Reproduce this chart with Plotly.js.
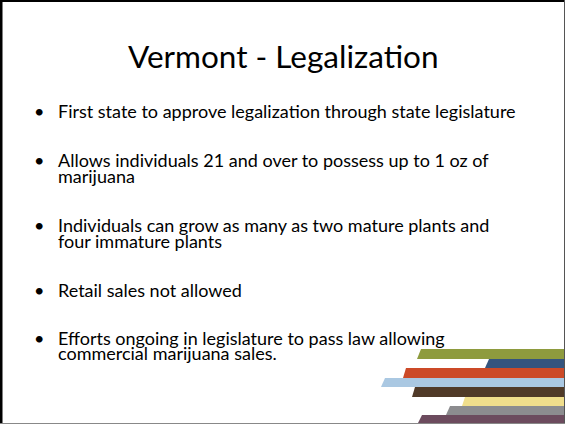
<!DOCTYPE html>
<html>
<head>
<meta charset="utf-8">
<script src="https://cdn.plot.ly/plotly-3.0.1.min.js"></script>
<style>html,body{margin:0;padding:0;background:#fff;}#chart{width:565px;height:424px;}</style>
</head>
<body>
<div id="chart"></div>
<script>
// ---- slide content ----
const slideTitle = "Vermont - Legalization";
const bulletLines = [
  ["First state to approve legalization through state legislature"],
  ["Allows individuals 21 and over to possess up to 1 oz of", "marijuana"],
  ["Individuals can grow as many as two mature plants and", "four immature plants"],
  ["Retail sales not allowed"],
  ["Efforts ongoing in legislature to pass law allowing", "commercial marijuana sales."]
];
const bulletY = [111, 160, 225, 289.5, 337.5];

// ---- decorative stripes (slide px units) ----
const stripeTop      = [349, 359, 368, 378, 387, 397, 406, 415];
const stripeBottom   = [359, 368, 378, 387, 397, 406, 415, 423];
const stripeLeftTop  = [421, 489, 406, 385, 415, 465, 450, 422];
const stripeLeftBot  = [417, 485, 403, 381, 412, 462, 446, 418];
const stripeRight = 564;
const stripeColors = ["#8e9b3e", "#34547e", "#cc4a28", "#aac8e2", "#503a28", "#f0de8c", "#8c8c8f", "#6c4b5e"];

const FONT = "Lato, 'Open Sans', sans-serif";
const LINE_GAP = 15.5;

const traces = stripeTop.map((t, i) => ({
  type: "scatter", mode: "lines", fill: "toself",
  x: [stripeLeftTop[i], stripeRight, stripeRight, stripeLeftBot[i], stripeLeftTop[i]],
  y: [t, t, stripeBottom[i], stripeBottom[i], t],
  line: {width: 0, color: stripeColors[i]},
  fillcolor: stripeColors[i],
  hoverinfo: "skip", showlegend: false
}));

const annotations = [{
  x: 283, y: 56, xref: "x", yref: "y", text: slideTitle, showarrow: false,
  xanchor: "center", yanchor: "middle",
  font: {family: FONT, size: 31.5, color: "#000"}
}];
bulletLines.forEach((lines, i) => {
  annotations.push({
    x: 39, y: bulletY[i], xref: "x", yref: "y", text: "•", showarrow: false,
    xanchor: "center", yanchor: "middle", font: {family: FONT, size: 18, color: "#000"}
  });
  lines.forEach((ln, j) => {
    annotations.push({
      x: 56, y: bulletY[i] + j * LINE_GAP, xref: "x", yref: "y", text: ln, showarrow: false,
      xanchor: "left", yanchor: "middle", font: {family: FONT, size: 18, color: "#000"}
    });
  });
});

const shapes = [
  {type: "line", xref: "x", yref: "y", x0: 1, x1: 1, y0: 0, y1: 424, line: {color: "#000", width: 3}},
  {type: "line", xref: "x", yref: "y", x0: 0, x1: 565, y0: 1, y1: 1, line: {color: "#000", width: 2}},
  {type: "line", xref: "x", yref: "y", x0: 564.5, x1: 564.5, y0: 0, y1: 424, line: {color: "#555", width: 1}},
  {type: "line", xref: "x", yref: "y", x0: 0, x1: 565, y0: 423.5, y1: 423.5, line: {color: "#888", width: 1}}
];

const layout = {
  width: 565, height: 424,
  margin: {l: 0, r: 0, t: 0, b: 0},
  paper_bgcolor: "#fff", plot_bgcolor: "#fff",
  xaxis: {range: [0, 565], visible: false, fixedrange: true},
  yaxis: {range: [424, 0], visible: false, fixedrange: true},
  showlegend: false,
  annotations: annotations,
  shapes: shapes
};

Plotly.newPlot("chart", traces, layout, {displayModeBar: false, staticPlot: true});
</script>
</body>
</html>
